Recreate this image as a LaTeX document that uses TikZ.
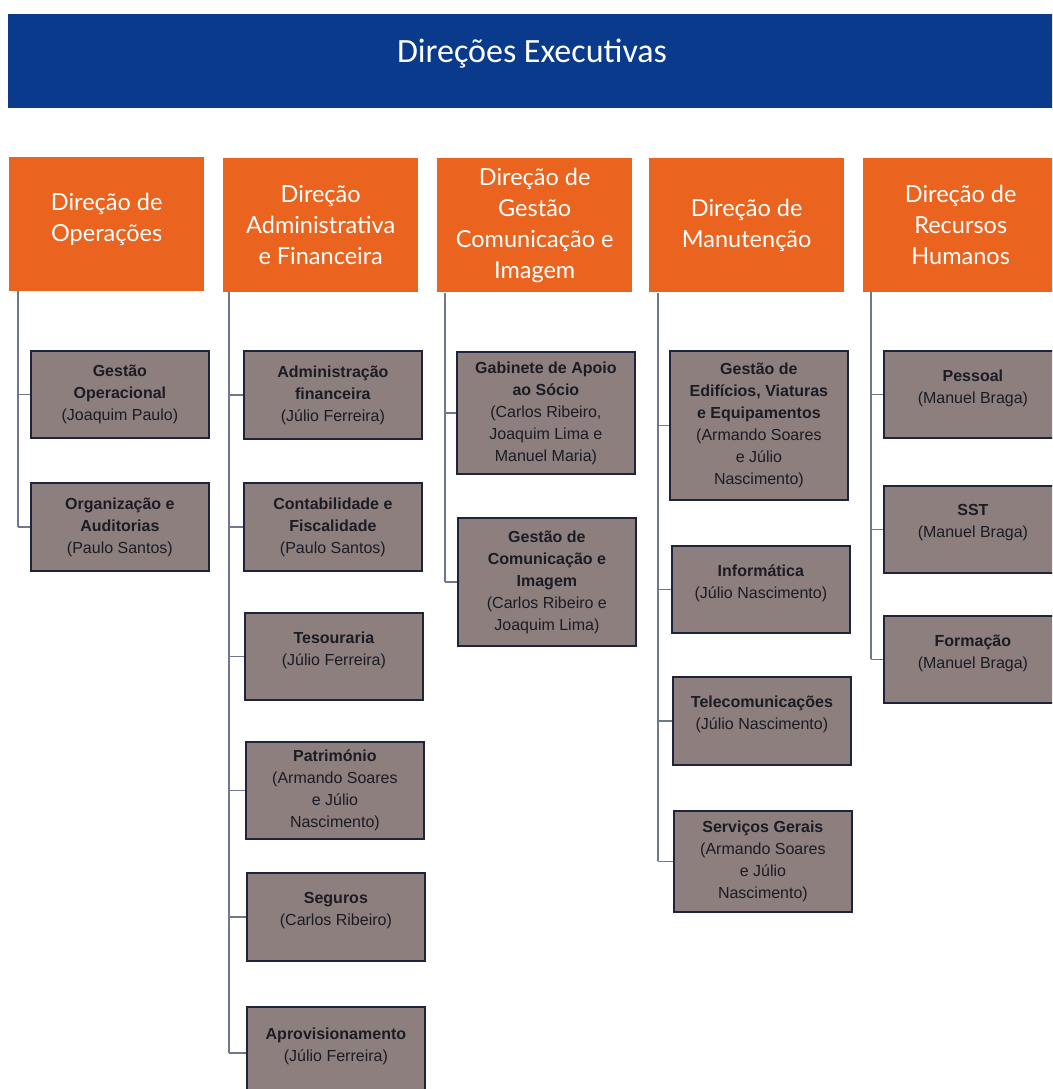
\documentclass[tikz,border=0pt]{standalone}
\usepackage{fontspec}
\setmainfont{Liberation Sans}
\newfontfamily\bannerfont{Carlito}
\newfontfamily\headfont{Lato}
\definecolor{bannerblue}{RGB}{10,58,140}
\definecolor{headorange}{RGB}{234,100,32}
\definecolor{kidfill}{RGB}{140,127,126}
\definecolor{kidline}{RGB}{30,36,62}
\definecolor{kidtext}{RGB}{28,28,36}
\definecolor{connline}{RGB}{110,120,145}
\tikzset{
  banner/.style={fill=bannerblue, draw=none, anchor=north west, inner sep=0pt},
  head/.style={fill=headorange, draw=none, anchor=north west, inner sep=2pt,
    text=white, align=center, font=\headfont\fontsize{23.5}{31}\selectfont,
    minimum width=195, minimum height=134},
  kid/.style={fill=kidfill, draw=kidline, line width=1.8pt, anchor=north west,
    inner sep=2pt, text=kidtext, align=center,
    font=\fontsize{16}{22}\selectfont, minimum width=178},
  conn/.style={draw=connline, line width=1.2pt}
}
\begin{document}
\begin{tikzpicture}[x=1pt,y=-1pt]
\clip (0,0) rectangle (1052,1089);
\fill[white] (0,0) rectangle (1052,1089);
% banner
\node[banner, minimum width=1050, minimum height=94] (ban) at (8,14) {};
\node[text=white, font=\bannerfont\fontsize{34}{40}\selectfont, anchor=center] (bantxt) at (532,54) {Direções Executivas};
% heads
\node[head] (d1) at (9,157) {Direção de\\Operações\\[-18pt]\mbox{}};
\node[head] (d2) at (223,158) {Direção\\Administrativa\\e Financeira};
\node[head] (d3) at (437,158) {Direção de\\Gestão\\Comunicação e\\Imagem};
\node[head] (d4) at (649,158) {Direção de\\Manutenção};
\node[head] (d5) at (863,158) {Direção de\\Recursos\\Humanos};
% column 1
\node[kid, minimum height=87] (a1) at (30,350) {\textbf{Gestão}\\\textbf{Operacional}\\(Joaquim Paulo)};
\node[kid, minimum height=88] (a2) at (30,482) {\textbf{Organização e}\\\textbf{Auditorias}\\(Paulo Santos)};
% column 2
\node[kid, minimum height=88] (b1) at (243,350) {\textbf{Administração}\\\textbf{financeira}\\(Júlio Ferreira)};
\node[kid, minimum height=88] (b2) at (243,482) {\textbf{Contabilidade e}\\\textbf{Fiscalidade}\\(Paulo Santos)};
\node[kid, minimum height=87] (b3) at (244,612) {\textbf{Tesouraria}\\(Júlio Ferreira)\\[-6pt]\mbox{}};
\node[kid, minimum height=97] (b4) at (245,741) {\textbf{Património}\\(Armando Soares\\e Júlio\\Nascimento)};
\node[kid, minimum height=88] (b5) at (246,872) {\textbf{Seguros}\\(Carlos Ribeiro)\\[-6pt]\mbox{}};
\node[kid, minimum height=92] (b6) at (246,1006) {\textbf{Aprovisionamento}\\(Júlio Ferreira)\\[-6pt]\mbox{}};
% column 3
\node[kid, minimum height=122] (c1) at (456,351) {\textbf{Gabinete de Apoio}\\\textbf{ao Sócio}\\(Carlos Ribeiro,\\Joaquim Lima e\\Manuel Maria)};
\node[kid, minimum height=128] (c2) at (457,517) {\textbf{Gestão de}\\\textbf{Comunicação e}\\\textbf{Imagem}\\(Carlos Ribeiro e\\Joaquim Lima)};
% column 4
\node[kid, minimum height=149] (e1) at (669,350) {\textbf{Gestão de}\\\textbf{Edifícios, Viaturas}\\\textbf{e Equipamentos}\\(Armando Soares\\e Júlio\\Nascimento)};
\node[kid, minimum height=87] (e2) at (671,545) {\textbf{Informática}\\(Júlio Nascimento)\\[-6pt]\mbox{}};
\node[kid, minimum height=88] (e3) at (672,676) {\textbf{Telecomunicações}\\(Júlio Nascimento)\\[-6pt]\mbox{}};
\node[kid, minimum height=101] (e4) at (673,810) {\textbf{Serviços Gerais}\\(Armando Soares\\e Júlio\\Nascimento)};
% column 5
\node[kid, minimum height=87] (f1) at (883,350) {\textbf{Pessoal}\\(Manuel Braga)\\[-6pt]\mbox{}};
\node[kid, minimum height=87] (f2) at (883,485) {\textbf{SST}\\(Manuel Braga)\\[-6pt]\mbox{}};
\node[kid, minimum height=87] (f3) at (883,615) {\textbf{Formação}\\(Manuel Braga)\\[-6pt]\mbox{}};
% connector spines
\coordinate (v1) at (18,291);
\coordinate (v2) at (229,292);
\coordinate (v3) at (445,293);
\coordinate (v4) at (658,293);
\coordinate (v5) at (871,292);
\draw[conn] (v1) -- (v1 |- a2.west);
\draw[conn] (v2) -- (v2 |- b6.west);
\draw[conn] (v3) -- (v3 |- c2.west);
\draw[conn] (v4) -- (v4 |- e4.west);
\draw[conn] (v5) -- (v5 |- f3.west);
\foreach \n in {a1,a2} {\draw[conn] (v1 |- \n.west) -- (\n.west);}
\foreach \n in {b1,b2,b3,b4,b5,b6} {\draw[conn] (v2 |- \n.west) -- (\n.west);}
\foreach \n in {c1,c2} {\draw[conn] (v3 |- \n.west) -- (\n.west);}
\foreach \n in {e1,e2,e3,e4} {\draw[conn] (v4 |- \n.west) -- (\n.west);}
\foreach \n in {f1,f2,f3} {\draw[conn] (v5 |- \n.west) -- (\n.west);}
\end{tikzpicture}
\end{document}
